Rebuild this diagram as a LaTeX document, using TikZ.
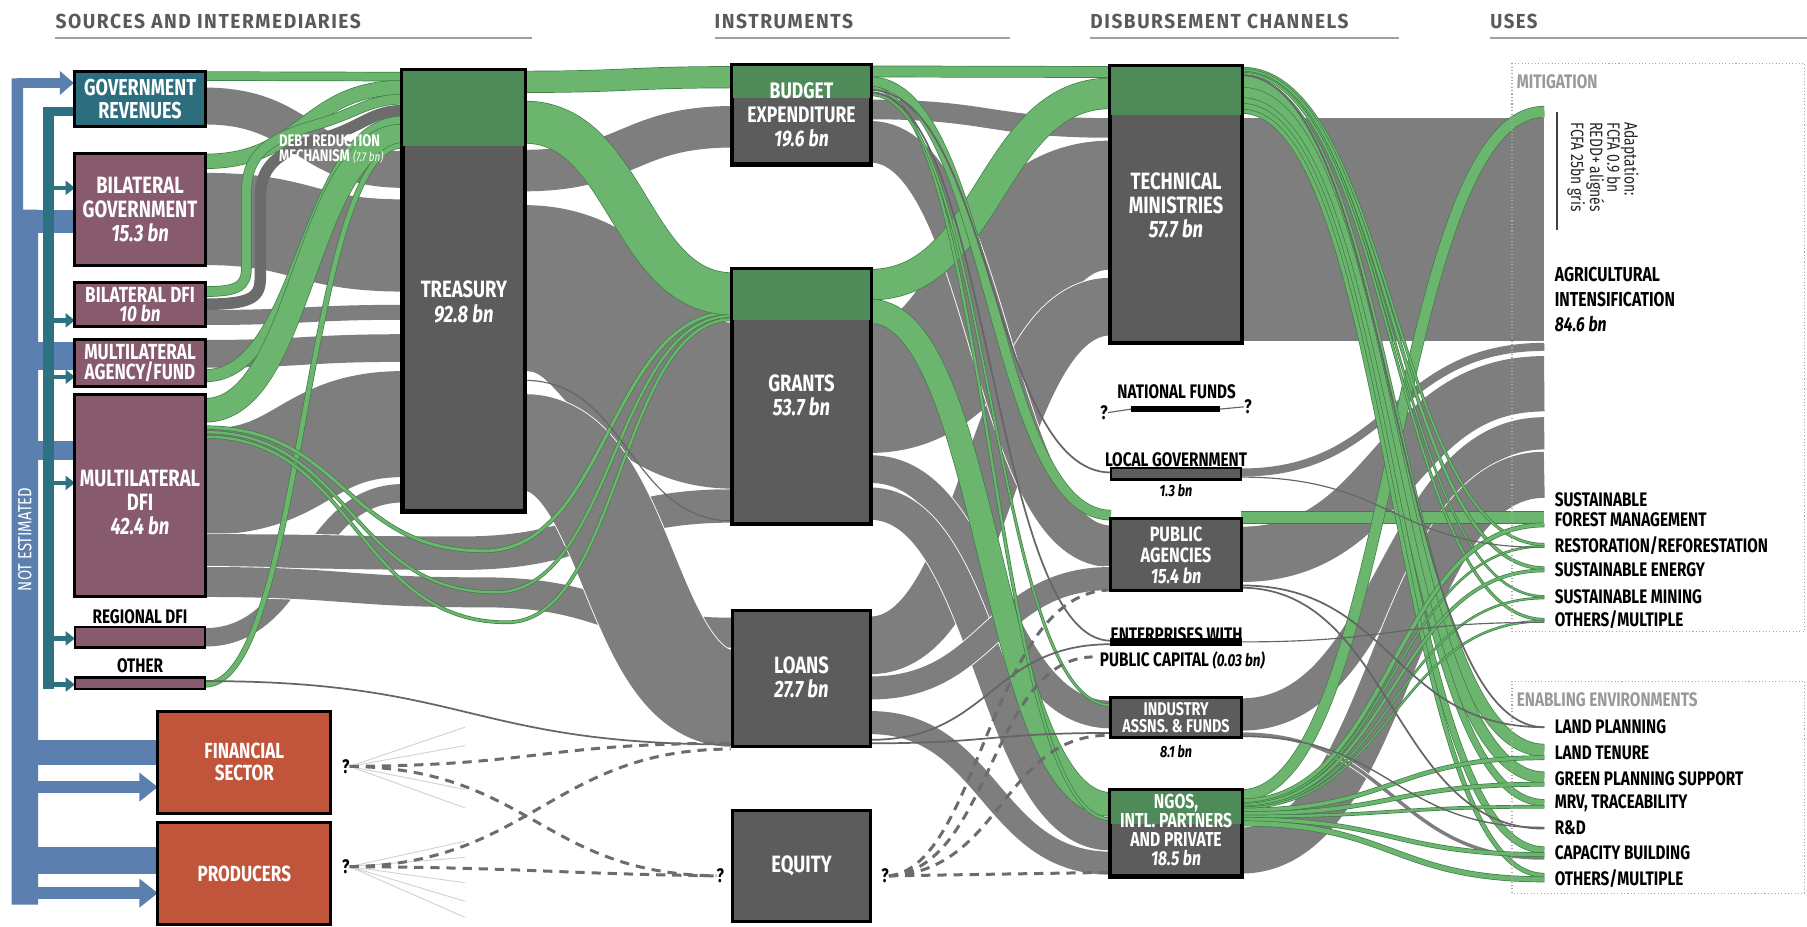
\documentclass[tikz,border=0pt]{standalone}
\usepackage{fontspec}
\setmainfont{Fira Sans}
\newfontfamily\cnd[FakeStretch=0.78]{Fira Sans}
\newfontfamily\hdr[LetterSpace=8]{Fira Sans}
\usetikzlibrary{arrows.meta}

\definecolor{flowgray}{HTML}{7E7E7E}
\definecolor{boxgray}{HTML}{5C5C5C}
\definecolor{flowgreen}{HTML}{6BB56E}
\definecolor{edgegreen}{HTML}{3E7E46}
\definecolor{boxgreen}{HTML}{4F8B58}
\definecolor{revteal}{HTML}{2C6E7E}
\definecolor{donor}{HTML}{875A6D}
\definecolor{private}{HTML}{C1553B}
\definecolor{notest}{HTML}{5B7FAE}
\definecolor{tealarr}{HTML}{2D7282}
\definecolor{hdrgray}{HTML}{5A5A5A}

\tikzset{
  gband/.style={draw=flowgray},
  gedge/.style={draw=white},
  lband/.style={draw=flowgreen},
  ledge/.style={draw=edgegreen},
  thinl/.style={draw=flowgray!80!black},
  dashflow/.style={draw=gray!85!black, line width=2.6pt, dash pattern=on 8pt off 6pt},
  fanline/.style={draw=gray!35, line width=0.8pt},
  box/.style={draw=black, line width=2.6pt, inner sep=0pt, minimum width=113pt},
  boxline/.style={draw=black, line width=2.6pt},
  wtxt/.style={text=white, font=\cnd\bfseries\fontsize{20.5}{21}\selectfont, align=center, inner sep=0pt},
  btxt/.style={text=black, font=\cnd\bfseries\fontsize{17}{18}\selectfont, align=center, inner sep=0pt},
  usetxt/.style={text=black, font=\cnd\bfseries\fontsize{17}{17}\selectfont, anchor=west, inner sep=0pt},
  grptxt/.style={text=gray!80, font=\cnd\bfseries\fontsize{17}{17}\selectfont, anchor=west, inner sep=0pt},
  hdrtxt/.style={text=hdrgray, anchor=base west, inner sep=0pt},
  hdrline/.style={draw=gray!75, line width=1.3pt},
  qmark/.style={text=black, font=\cnd\bfseries\fontsize{17}{17}\selectfont, inner sep=0pt},
  dotbox/.style={draw=gray!70, line width=0.9pt, dotted},
}

% gray link: x1 y1 x2 y2 width
\newcommand{\gflow}[5]{%
  \draw[gedge, line width={(#5+1.5)*1pt}] (#1,#2) .. controls ({(#1+#3)/2},#2) and ({(#1+#3)/2},#4) .. (#3,#4);
  \draw[gband, line width={(#5)*1pt}] (#1,#2) .. controls ({(#1+#3)/2},#2) and ({(#1+#3)/2},#4) .. (#3,#4);}
% green link
\newcommand{\lflow}[5]{%
  \draw[ledge, line width={(#5+1.2)*1pt}] (#1,#2) .. controls ({(#1+#3)/2},#2) and ({(#1+#3)/2},#4) .. (#3,#4);
  \draw[lband, line width={(#5)*1pt}] (#1,#2) .. controls ({(#1+#3)/2},#2) and ({(#1+#3)/2},#4) .. (#3,#4);}
% thin gray line
\newcommand{\thinflow}[5]{%
  \draw[thinl, line width={(#5)*1pt}] (#1,#2) .. controls ({(#1+#3)/2},#2) and ({(#1+#3)/2},#4) .. (#3,#4);}
% links passing under a box: x1 y1 xv yv x2 y2 width
\newcommand{\gvia}[7]{%
  \draw[gedge, line width={(#7+1.5)*1pt}] (#1,#2) .. controls ({(#1+#3)/2},#2) and ({(#1+#3)/2},#4) .. (#3,#4) .. controls ({(#3+#5)/2},#4) and ({(#3+#5)/2},#6) .. (#5,#6);
  \draw[gband, line width={(#7)*1pt}] (#1,#2) .. controls ({(#1+#3)/2},#2) and ({(#1+#3)/2},#4) .. (#3,#4) .. controls ({(#3+#5)/2},#4) and ({(#3+#5)/2},#6) .. (#5,#6);}
\newcommand{\lvia}[7]{%
  \draw[ledge, line width={(#7+1.2)*1pt}] (#1,#2) .. controls ({(#1+#3)/2},#2) and ({(#1+#3)/2},#4) .. (#3,#4) .. controls ({(#3+#5)/2},#4) and ({(#3+#5)/2},#6) .. (#5,#6);
  \draw[lband, line width={(#7)*1pt}] (#1,#2) .. controls ({(#1+#3)/2},#2) and ({(#1+#3)/2},#4) .. (#3,#4) .. controls ({(#3+#5)/2},#4) and ({(#3+#5)/2},#6) .. (#5,#6);}

\begin{document}
\begin{tikzpicture}[x=1pt,y=-1pt]
\useasboundingbox (0,0) rectangle (1568,804);
\fill[white] (0,0) rectangle (1568,804);

% not estimated arrows
\fill[notest] (10,68) -- (20,68) -- (20,182) -- (33,182) -- (33,785) -- (10,785) -- cycle;
\draw[notest, line width=9pt, -{Triangle[length=12pt,width=20pt]}] (15,72) -- (64,72);
\fill[notest] (20,182) rectangle (65,202);
\fill[notest] (20,297) rectangle (65,321);
\fill[notest] (20,383) rectangle (65,399);
\fill[notest] (20,642) rectangle (137,664);
\fill[notest] (20,735) rectangle (137,758);
\draw[notest, line width=10pt, -{Triangle[length=16pt,width=24pt]}] (25,683) -- (137,683);
\draw[notest, line width=10pt, -{Triangle[length=16pt,width=24pt]}] (25,775) -- (137,775);
\fill[tealarr] (37,93) rectangle (47,598);
\fill[tealarr] (37,93) rectangle (65,101);
\foreach \y in {163,278,327,419,554,594}
  \draw[tealarr, line width=4pt, -{Triangle[length=8pt,width=12pt]}] (45,\y) -- (65,\y);
\node[rotate=90, text=white, font=\cnd\fontsize{16.5}{16.5}\selectfont, inner sep=0pt] (notest-t) at (21.5,468) {NOT ESTIMATED};

% sources -> treasury
\gflow{178}{92}{350}{147}{32}
\gflow{178}{190}{350}{213}{80}
\gflow{178}{275.5}{350}{271}{13}
\gflow{178}{307}{350}{302}{24}
\gflow{178}{418}{350}{368}{92}
\gflow{178}{553}{350}{428}{16}
\gvia{178}{478}{400}{480}{636}{439}{29}
\gvia{178}{505}{420}{514}{636}{549}{26}

% treasury -> instruments
\gflow{455}{148}{636}{110}{36}
\gflow{455}{250}{636}{352}{144}
\gflow{455}{384}{636}{606}{84}

% instruments -> channels
\gflow{755}{95}{964}{111}{17}
\gflow{755}{337}{964}{178}{112}
\gflow{755}{560}{964}{266}{50}
\gflow{755}{123}{964}{474}{36}
\gflow{755}{407}{964}{620}{24}
\gflow{755}{437}{964}{724}{28}
\gflow{755}{597}{964}{502}{20}
\gflow{755}{627}{964}{749}{20}

% channels -> uses
\gflow{1077}{199}{1340}{199}{194}
\gflow{1077}{410}{1340}{301}{7}
\gflow{1077}{481}{1340}{333}{48}
\gflow{1077}{620}{1340}{376}{28}
\gflow{1077}{738}{1340}{412}{40}
\gflow{1077}{637}{1340}{744.5}{3}

% green, sources -> treasury
\lflow{178}{66}{350}{66.5}{7}
\lflow{178}{140}{350}{76}{12}
\draw[ledge, line width=9.2pt] (178,253) .. controls (214,253) and (214,245) .. (214,225) -- (214,165) .. controls (214,130) and (240,118) .. (275,108) .. controls (310,98) and (320,86) .. (350,86);
\draw[lband, line width=8pt] (178,253) .. controls (214,253) and (214,245) .. (214,225) -- (214,165) .. controls (214,130) and (240,118) .. (275,108) .. controls (310,98) and (320,86) .. (350,86);
\draw[boxgray!90, line width=10pt] (178,264) .. controls (226,264) and (226,255) .. (226,235) -- (226,170) .. controls (226,142) and (245,130) .. (280,120) .. controls (315,110) and (322,96) .. (350,96);
\lflow{178}{326}{350}{106}{10}
\lflow{178}{356}{350}{118}{20}
\lflow{178}{594}{350}{126}{4}
\lvia{178}{371}{420}{478}{636}{271}{2.5}
\lvia{178}{375}{430}{514}{636}{274}{2}
\lvia{178}{379}{440}{540}{636}{277}{2}

% green, treasury -> instruments
\lflow{455}{71}{636}{67}{18}
\lflow{455}{106}{636}{255}{36}

% green, instruments -> channels
\lflow{755}{62}{964}{62.5}{9}
\lflow{755}{247}{964}{81}{26}
\lflow{755}{71}{964}{447}{8}
\lflow{755}{270}{964}{698}{20}
\lflow{755}{76}{964}{711}{2}
\lflow{755}{82}{964}{612}{1.5}

% green, channels -> uses
\lflow{1077}{449}{1340}{449}{10}
\lflow{1077}{690}{1340}{97}{9}
\foreach \ya/\yb/\w in {59.25/472.5/1.5, 61/493/2, 62.5/517.5/1, 63.75/537.5/1.5, 71/651/10, 80.5/674.5/9, 87.5/696.5/5, 92.5/737.5/5, 96.5/759.5/3}
  {\lflow{1077}{\ya}{1340}{\yb}{\w}}
\foreach \ya/\yb/\w in {695/455.5/3, 697/474/1, 698.5/495/2, 700/519/1, 701/539/1, 703/657.5/3, 706/680.5/3, 708.5/700/2, 711/741.5/3, 714.5/763/4}
  {\lflow{1077}{\ya}{1340}{\yb}{\w}}

% thin flows
\thinflow{1077}{65.25}{1340}{631}{1.5}
\thinflow{1077}{414}{1340}{475}{1}
\thinflow{1077}{508}{1340}{631}{1.5}
\thinflow{1077}{510}{1340}{719}{1.5}
\thinflow{1077}{557}{1340}{540}{1}
\thinflow{1077}{639}{1340}{718}{1.2}
\thinflow{178}{591}{636}{646}{1.5}
\thinflow{455}{330}{636}{452}{1}
\thinflow{755}{78}{964}{410}{1.5}
\thinflow{755}{80}{964}{556}{1.5}
\thinflow{755}{642}{964}{559}{1.5}
\thinflow{755}{645}{964}{636}{1.5}

% question marks and dashed flows
\node[qmark] (q-fin) at (300,665) {?};
\node[qmark] (q-prod) at (300,752) {?};
\node[qmark] (q-eqin) at (625,760) {?};
\node[qmark] (q-eqout) at (768,760) {?};
\foreach \dy in {-34,-18,20,36} \draw[fanline] (q-fin.east) -- ++(100,\dy);
\foreach \dy in {-22,-8,14,30,44} \draw[fanline] (q-prod.east) -- ++(100,\dy);
\draw[dashflow] (q-fin.east) .. controls (470,664) and (470,645) .. (634,645);
\draw[dashflow] (q-fin.east) .. controls (460,667) and (470,758) .. (q-eqin.west);
\draw[dashflow] (q-prod.east) .. controls (460,750) and (480,650) .. (634,650);
\draw[dashflow] (q-prod.east) .. controls (460,753) and (480,758) .. (q-eqin.west);
\draw[dashflow] (q-eqout.east) -- (962,757);
\draw[dashflow] (q-eqout.east) .. controls (870,756) and (870,638) .. (962,638);
\draw[dashflow] (q-eqout.east) .. controls (860,754) and (860,572) .. (948,570);
\draw[dashflow] (q-eqout.east) .. controls (850,752) and (860,515) .. (962,512);

% sources
\node[box, fill=revteal, minimum height=48pt] (govrev) at (121.5,86) {};
\node[wtxt, font=\cnd\bfseries\fontsize{20}{19.5}\selectfont] (govrev-t) at (govrev) {GOVERNMENT\\REVENUES};
\node[box, fill=donor, minimum height=97pt] (bilgov) at (121.5,181.5) {};
\node[wtxt] (bilgov-t) at (121.5,182) {BILATERAL\\GOVERNMENT\\{\itshape 15.3 bn}};
\node[box, fill=donor, minimum height=38pt] (bildfi) at (121.5,264) {};
\node[wtxt, font=\cnd\bfseries\fontsize{19}{16.5}\selectfont] (bildfi-t) at (bildfi) {BILATERAL DFI\\{\itshape 10 bn}};
\node[box, fill=donor, minimum height=40pt] (multiag) at (121.5,315) {};
\node[wtxt, font=\cnd\bfseries\fontsize{19}{17.5}\selectfont] (multiag-t) at (multiag) {MULTILATERAL\\AGENCY/FUND};
\node[box, fill=donor, minimum height=176pt] (multidfi) at (121.5,430) {};
\node[wtxt] (multidfi-t) at (121.5,436) {MULTILATERAL\\DFI\\{\itshape 42.4 bn}};
\node[box, fill=donor, minimum height=18pt, line width=2.2pt] (regdfi) at (121.5,553) {};
\node[btxt] (regdfi-t) at (121.5,535) {REGIONAL DFI};
\node[box, fill=donor, minimum height=10pt, line width=2.2pt] (other) at (121.5,593) {};
\node[btxt] (other-t) at (121.5,578) {OTHER};
\node[box, fill=private, minimum width=150pt, minimum height=89pt] (finsec) at (212,661.5) {};
\node[wtxt, font=\cnd\bfseries\fontsize{19}{19}\selectfont] (finsec-t) at (finsec) {FINANCIAL\\SECTOR};
\node[box, fill=private, minimum width=150pt, minimum height=88pt] (producers) at (212,758) {};
\node[wtxt, font=\cnd\bfseries\fontsize{19}{19}\selectfont] (producers-t) at (producers) {PRODUCERS};

% treasury
\node[box, fill=boxgray, minimum width=105pt, minimum height=381pt] (treasury) at (402.5,252.5) {};
\fill[boxgreen] (treasury.north west) rectangle ([yshift=-66pt]treasury.north east);
\draw[boxline] (treasury.north west) rectangle (treasury.south east);
\node[wtxt] (treasury-t) at (402.5,262) {TREASURY\\{\itshape 92.8 bn}};
\node[text=white, font=\cnd\bfseries\fontsize{14.5}{13}\selectfont, align=left, anchor=north west, inner sep=0pt] (drm-t) at (242,117) {DEBT REDUCTION\\MECHANISM {\mdseries\itshape\fontsize{11}{13}\selectfont (7.7 bn)}};

% instruments
\node[box, fill=boxgray, minimum width=119pt, minimum height=85pt] (budget) at (695.5,99.5) {};
\fill[boxgreen] (budget.north west) rectangle ([yshift=-29pt]budget.north east);
\draw[boxline] (budget.north west) rectangle (budget.south east);
\node[wtxt, font=\cnd\bfseries\fontsize{19.5}{21}\selectfont] (budget-t) at (budget) {BUDGET\\EXPENDITURE\\{\itshape 19.6 bn}};
\node[box, fill=boxgray, minimum width=119pt, minimum height=220pt] (grants) at (695.5,344) {};
\fill[boxgreen] (grants.north west) rectangle ([yshift=-45pt]grants.north east);
\draw[boxline] (grants.north west) rectangle (grants.south east);
\node[wtxt] (grants-t) at (695.5,343) {GRANTS\\{\itshape 53.7 bn}};
\node[box, fill=boxgray, minimum width=119pt, minimum height=118pt] (loans) at (695.5,589) {};
\node[wtxt] (loans-t) at (695.5,588) {LOANS\\{\itshape 27.7 bn}};
\node[box, fill=boxgray, minimum width=119pt, minimum height=97pt] (equity) at (695.5,751.5) {};
\node[wtxt] (equity-t) at (equity) {EQUITY};

% disbursement channels
\node[box, fill=boxgray, minimum height=239pt] (techmin) at (1020.5,177.5) {};
\fill[boxgreen] (techmin.north west) rectangle ([yshift=-43pt]techmin.north east);
\draw[boxline] (techmin.north west) rectangle (techmin.south east);
\node[wtxt] (techmin-t) at (1020.5,178) {TECHNICAL\\MINISTRIES\\{\itshape 57.7 bn}};
\node[btxt] (natfunds-t) at (1021,340) {NATIONAL FUNDS};
\node[box, fill=black, minimum width=76pt, minimum height=4pt, line width=1pt] (natfunds) at (1020,355) {};
\node[qmark] (q-nf1) at (958,358) {?};
\node[qmark] (q-nf2) at (1083,353) {?};
\draw[thinl, line width=1pt] (q-nf1.east) -- (natfunds.west);
\draw[thinl, line width=1pt] (natfunds.east) -- (q-nf2.west);
\node[box, fill=boxgray, minimum height=10pt, line width=2.2pt] (localgov) at (1020.5,411) {};
\node[btxt, anchor=base] (localgov-t) at (1020.5,405) {LOCAL GOVERNMENT};
\node[btxt, font=\cnd\bfseries\itshape\fontsize{14}{14}\selectfont] (localgov-v) at (1020.5,426) {1.3 bn};
\node[box, fill=boxgray, minimum height=62pt] (pubag) at (1020.5,481) {};
\node[wtxt, font=\cnd\bfseries\fontsize{18}{18}\selectfont] (pubag-t) at (1020.5,482) {PUBLIC\\AGENCIES\\{\itshape 15.4 bn}};
\node[box, fill=black, minimum height=6pt, line width=1pt] (enterp) at (1020.5,557) {};
\node[btxt, anchor=base] (enterp-t) at (1021,557) {ENTERPRISES WITH};
\node[btxt] (enterp-v) at (1026,573) {PUBLIC CAPITAL {\itshape\fontsize{15}{15}\selectfont (0.03 bn)}};
\node[box, fill=boxgray, minimum height=35pt] (industry) at (1020.5,622.5) {};
\node[wtxt, font=\cnd\bfseries\fontsize{16}{15}\selectfont] (industry-t) at (1020.5,622.5) {INDUSTRY\\ASSNS. \& FUNDS};
\node[btxt, font=\cnd\bfseries\itshape\fontsize{14}{14}\selectfont] (industry-v) at (1020.5,652) {8.1 bn};
\node[box, fill=boxgray, minimum height=74pt] (ngos) at (1020.5,723) {};
\fill[boxgreen] (ngos.north west) rectangle ([yshift=-30pt]ngos.north east);
\draw[boxline] (ngos.north west) rectangle (ngos.south east);
\node[wtxt, font=\cnd\bfseries\fontsize{17.5}{16.5}\selectfont] (ngos-t) at (1020.5,720) {NGOS,\\INTL. PARTNERS\\AND PRIVATE\\{\itshape 18.5 bn}};

% uses
\draw[dotbox] (1312,55) rectangle (1566,548);
\draw[dotbox] (1312,591) rectangle (1566,775);
\node[grptxt] (mitig-t) at (1316,71) {MITIGATION};
\node[grptxt] (enabl-t) at (1316,607) {ENABLING ENVIRONMENTS};
\draw[line width=1.2pt, black!75] (1351,97) -- (1351,200);
\node[rotate=-90, anchor=north west, align=left, inner sep=0pt, text=black!85, font=\cnd\fontsize{15.5}{15}\selectfont] (adapt-t) at (1422,106) {Adaptation:\\FCFA 0.9 bn\\REDD+ alignés\\FCFA 25bn gris};
\node[usetxt, anchor=north west, align=left, font=\cnd\bfseries\fontsize{17.5}{21.5}\selectfont] (agri-t) at (1349,232) {AGRICULTURAL\\INTENSIFICATION\\{\itshape 84.6 bn}};
\node[usetxt] (sfm-t) at (1349,434) {SUSTAINABLE};
\node[usetxt] (sfm2-t) at (1349,451) {FOREST MANAGEMENT};
\node[usetxt] (rest-t) at (1349,473) {RESTORATION/REFORESTATION};
\node[usetxt] (energy-t) at (1349,494) {SUSTAINABLE ENERGY};
\node[usetxt] (mining-t) at (1349,518) {SUSTAINABLE MINING};
\node[usetxt] (othm-t) at (1349,538) {OTHERS/MULTIPLE};
\node[usetxt] (landp-t) at (1349,631) {LAND PLANNING};
\node[usetxt] (landt-t) at (1349,653) {LAND TENURE};
\node[usetxt] (green-t) at (1349,676) {GREEN PLANNING SUPPORT};
\node[usetxt] (mrv-t) at (1349,697) {MRV, TRACEABILITY};
\node[usetxt] (rd-t) at (1349,718) {R\&D};
\node[usetxt] (capb-t) at (1349,740) {CAPACITY BUILDING};
\node[usetxt] (othe-t) at (1349,762) {OTHERS/MULTIPLE};

% headers
\node[hdrtxt] (h-src) at (48,24.5) {\resizebox{265pt}{12.5pt}{\hdr\bfseries SOURCES AND INTERMEDIARIES}};
\node[hdrtxt] (h-ins) at (620,24.5) {\resizebox{120pt}{12.5pt}{\hdr\bfseries INSTRUMENTS}};
\node[hdrtxt] (h-dis) at (946,24.5) {\resizebox{224pt}{12.5pt}{\hdr\bfseries DISBURSEMENT CHANNELS}};
\node[hdrtxt] (h-use) at (1293,24.5) {\resizebox{41pt}{12.5pt}{\hdr\bfseries USES}};
\draw[hdrline] (48,33) -- (462,33);
\draw[hdrline] (620,33) -- (876,33);
\draw[hdrline] (946,33) -- (1214,33);
\draw[hdrline] (1293,33) -- (1568,33);
\end{tikzpicture}
\end{document}
